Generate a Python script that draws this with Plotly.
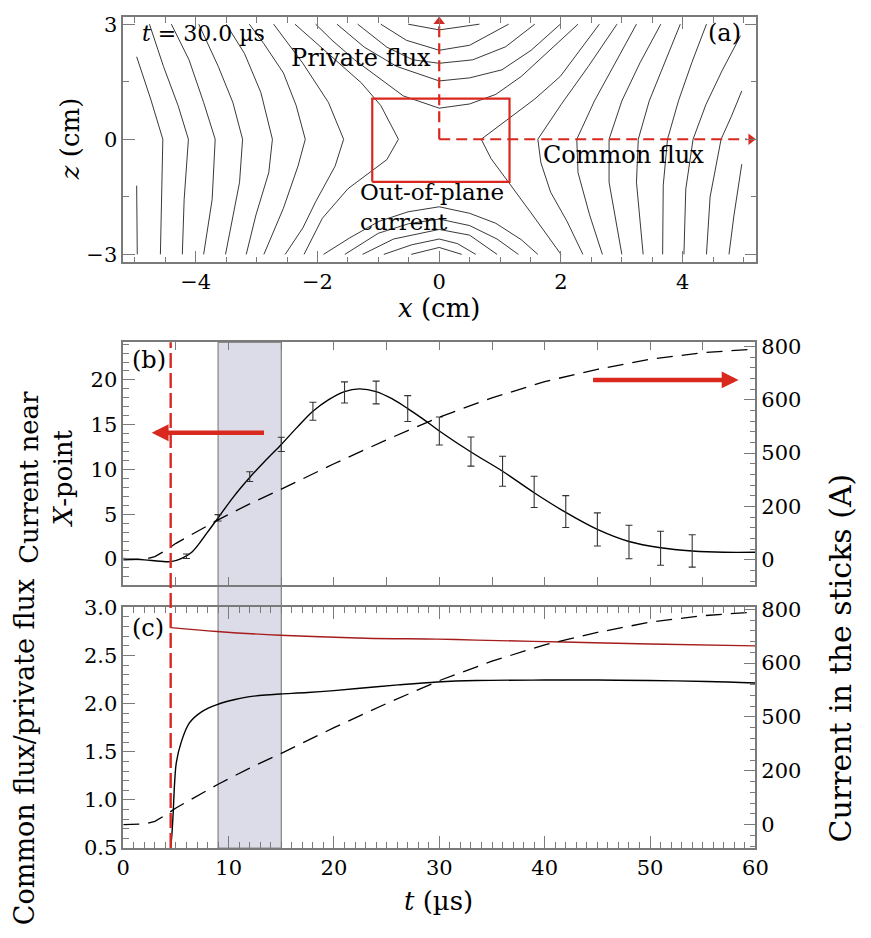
import plotly.graph_objects as go

W, H = 871, 938
FONT = "DejaVu Serif"
RED = "#d9281e"
AXC = "#7a7a7a"


def fx(px):
    return px / W


def fy(py):
    return 1 - py / H


# ---------------- panel (a): field lines ----------------
field_lines_x = [
    # left family (top -> vertex at z=0 -> bottom)
    [-4.97, -4.74, -4.54, -4.56, -4.58],
    [-4.76, -4.53, -4.29, -4.12, -4.19, -4.22],
    [-4.40, -4.11, -3.87, -3.68, -3.73, -3.87],
    [-3.95, -3.63, -3.39, -3.23, -3.28, -3.51],
    [-3.50, -3.20, -2.93, -2.74, -2.80, -3.01, -3.17],
    [-3.12, -2.88, -2.56, -2.35, -2.20, -2.32, -2.56, -2.88],
    [-2.72, -2.24, -1.82, -1.57, -1.71, -2.03, -2.24, -2.53],
    [-2.37, -1.82, -1.28, -0.96, -0.67, -0.86, -1.07, -1.50, -1.92, -2.22],
    [-4.97, -4.96],
    # right family
    [2.63, 1.99, 1.57, 1.14, 0.69, 0.85, 1.13, 1.50, 2.00],
    [2.92, 2.45, 2.00, 1.62, 1.67, 1.83, 2.10, 2.36],
    [3.24, 2.90, 2.55, 2.26, 2.28, 2.47, 2.68],
    [3.64, 3.30, 3.00, 2.79, 2.79, 3.00],
    [3.96, 3.70, 3.45, 3.27, 3.24, 3.35],
    [4.39, 4.15, 3.93, 3.75, 3.68, 3.67],
    [4.95, 4.65, 4.38, 4.17, 4.05, 4.02],
    [4.97, 4.80, 4.63, 4.45, 4.39],
    [4.97, 4.84, 4.76],
    # top family (private flux)
    [-0.51, -0.03, 0.00, 0.66],
    [-0.96, -0.54, 0.00, 0.50, 1.14],
    [-1.34, -0.86, -0.43, 0.00, 0.55, 1.09, 1.57],
    [-1.68, -1.23, -0.70, 0.00, 0.50, 1.03, 1.51, 1.99],
    [-2.03, -1.76, -1.39, -1.02, -0.59, 0.00, 0.50, 0.93, 1.35, 2.28],
    # bottom family
    [-1.90, -1.47, -0.99, -0.51, 0.00, 0.50, 0.93, 1.35, 1.62],
    [-1.55, -1.00, -0.50, 0.00, 0.50, 0.95, 1.30],
    [-1.26, -0.75, 0.00, 0.50, 0.95],
    [-0.91, -0.45, 0.00, 0.30, 0.60],
    [-0.46, 0.00, 0.37],
]
field_lines_z = [
    [2.15, 1.05, 0.00, -1.50, -3.00],
    [3.00, 1.90, 0.88, 0.00, -1.57, -3.00],
    [3.00, 2.07, 0.96, 0.00, -1.57, -3.00],
    [3.00, 1.90, 0.96, 0.00, -1.12, -3.00],
    [3.00, 2.24, 1.22, 0.00, -0.87, -1.97, -3.00],
    [3.00, 2.49, 1.73, 0.88, 0.00, -0.70, -1.80, -3.00],
    [3.00, 1.98, 0.96, 0.00, -0.70, -1.63, -2.31, -3.00],
    [3.00, 2.24, 1.47, 0.88, 0.00, -0.53, -0.78, -1.29, -2.06, -3.00],
    [-1.21, -3.00],
    [3.00, 1.64, 1.05, 0.54, 0.00, -0.50, -1.10, -1.90, -3.00],
    [3.00, 1.90, 0.90, 0.00, -0.61, -1.38, -2.14, -3.00],
    [3.00, 2.00, 1.00, 0.00, -0.87, -1.97, -3.00],
    [3.00, 2.00, 1.00, 0.00, -1.12, -3.00],
    [3.00, 2.00, 1.00, 0.00, -1.12, -3.00],
    [3.00, 2.00, 1.00, 0.00, -1.20, -3.00],
    [2.70, 1.80, 0.90, 0.00, -1.30, -3.00],
    [1.26, 0.60, 0.00, -1.50, -3.00],
    [-0.65, -2.00, -3.00],
    [3.00, 2.87, 2.85, 3.00],
    [3.00, 2.58, 2.32, 2.45, 3.00],
    [3.00, 2.40, 2.07, 1.98, 2.07, 2.41, 3.00],
    [3.00, 2.40, 1.90, 1.52, 1.60, 1.81, 2.32, 3.00],
    [3.00, 2.58, 2.07, 1.64, 1.13, 0.81, 0.92, 1.17, 1.64, 3.00],
    [-3.00, -2.57, -2.14, -1.89, -1.76, -1.93, -2.19, -2.62, -3.00],
    [-3.00, -2.45, -2.20, -2.08, -2.25, -2.60, -3.00],
    [-3.00, -2.60, -2.35, -2.50, -3.00],
    [-3.00, -2.75, -2.60, -2.72, -3.00],
    [-3.00, -2.82, -3.00],
]

box_x = [-1.10, 1.155]
box_z = [-1.11, 1.06]

# ---------------- panel (b) ----------------
t_fit = [0, 2, 3.5, 4.5, 5.5, 6.5, 8, 9, 10.5, 12, 13.5, 15, 16.5, 18, 19.5, 21,
         22.4, 24, 25.5, 27, 28.5, 30, 33, 36, 39, 42, 45, 48, 51, 54, 57, 60]
I_fit = [0.05, -0.1, -0.25, -0.3, 0.05, 0.75, 3.0, 4.6, 7.0, 9.1, 11.0, 12.8,
         14.7, 16.5, 17.8, 18.7, 19.0, 18.7, 17.9, 16.8, 15.6, 14.3, 11.95, 9.8,
         7.4, 5.2, 3.3, 1.95, 1.25, 0.9, 0.75, 0.75]

t_err = [6, 9, 12, 15, 18, 21, 24, 27, 30, 33, 36, 39, 42, 45, 48, 51, 54]
I_err = [0.3, 4.6, 9.2, 12.8, 16.5, 18.6, 18.6, 16.8, 14.3, 12.0, 9.8, 7.5,
         5.3, 3.3, 1.9, 1.2, 0.9]
I_err_size = [0.25, 0.36, 0.54, 0.8, 1.0, 1.18, 1.27, 1.45, 1.56, 1.63, 1.68,
              1.74, 1.78, 1.85, 1.87, 1.9, 1.81]

t_stick = [0, 2, 3, 4, 5, 7, 9, 12, 15, 20, 25, 30, 35, 40, 45, 50, 55, 60]
I_stick = [0, 2, 12, 35, 62, 105, 150, 210, 265, 360, 450, 535, 607, 668, 714,
           752, 776, 790]

# ---------------- panel (c) ----------------
t_ratio = [4.5, 4.6, 4.73, 4.88, 5.04, 5.5, 6.28, 7.5, 8.9, 10.5, 11.84, 13.5,
           14.9, 17.5, 20, 23, 26.1, 29.8, 33.5, 40, 45, 49.9, 55.4, 60]
ratio = [0.5, 0.62, 0.85, 1.19, 1.39, 1.6, 1.80, 1.92, 1.99, 2.04, 2.07, 2.09,
         2.10, 2.115, 2.135, 2.165, 2.195, 2.225, 2.24, 2.245, 2.245, 2.24, 2.23, 2.215]

t_red = [4.5, 8.9, 14.9, 23, 29.8, 33.5, 41.8, 50, 60]
red_val = [2.79, 2.75, 2.71, 2.68, 2.67, 2.66, 2.64, 2.62, 2.60]

t_onset = 4.5
t_band = [9, 15]

right_tickvals = [0, 200, 400, 600, 800]
right_ticktext = ["0", "200", "500", "600", "800"]

fig = go.Figure()

# panel a
for xs, zs in zip(field_lines_x, field_lines_z):
    fig.add_trace(go.Scatter(x=xs, y=zs, mode="lines", xaxis="x", yaxis="y",
                             line=dict(color="#222222", width=0.9),
                             showlegend=False, hoverinfo="skip"))
fig.add_trace(go.Scatter(
    x=[box_x[0], box_x[1], box_x[1], box_x[0], box_x[0]],
    y=[box_z[0], box_z[0], box_z[1], box_z[1], box_z[0]],
    mode="lines", xaxis="x", yaxis="y", line=dict(color=RED, width=2.2),
    showlegend=False))
fig.add_trace(go.Scatter(x=[0, 0], y=[0, 3.0], mode="lines", xaxis="x", yaxis="y",
                         line=dict(color=RED, width=2.2, dash="11px,6px"),
                         showlegend=False))
fig.add_trace(go.Scatter(x=[0, 5.05], y=[0, 0], mode="lines", xaxis="x", yaxis="y",
                         line=dict(color=RED, width=2.2, dash="11px,6px"),
                         showlegend=False))
fig.add_trace(go.Scatter(x=[0], y=[3.07], mode="markers", xaxis="x", yaxis="y",
                         marker=dict(symbol="triangle-up", size=10, color=RED),
                         cliponaxis=False, showlegend=False))
fig.add_trace(go.Scatter(x=[5.12], y=[0], mode="markers", xaxis="x", yaxis="y",
                         marker=dict(symbol="triangle-right", size=10, color=RED),
                         cliponaxis=False, showlegend=False))

# panel b
fig.add_trace(go.Scatter(x=t_stick, y=I_stick, mode="lines", xaxis="x2", yaxis="y3",
                         line=dict(color="black", width=1.3, dash="16px,9px"),
                         showlegend=False))
fig.add_trace(go.Scatter(x=t_fit, y=I_fit, mode="lines", xaxis="x2", yaxis="y2",
                         line=dict(color="black", width=1.4, shape="spline"),
                         showlegend=False))
fig.add_trace(go.Scatter(x=t_err, y=I_err, mode="markers", xaxis="x2", yaxis="y2",
                         marker=dict(size=1, color="rgba(0,0,0,0)"),
                         error_y=dict(type="data", array=I_err_size, visible=True,
                                      color="#333333", thickness=1.1, width=3.5),
                         showlegend=False))

# panel c
fig.add_trace(go.Scatter(x=t_stick, y=I_stick, mode="lines", xaxis="x3", yaxis="y5",
                         line=dict(color="black", width=1.3, dash="16px,9px"),
                         showlegend=False))
fig.add_trace(go.Scatter(x=t_red, y=red_val, mode="lines", xaxis="x3", yaxis="y4",
                         line=dict(color="#a51c1c", width=1.4, shape="spline"),
                         showlegend=False))
fig.add_trace(go.Scatter(x=t_ratio, y=ratio, mode="lines", xaxis="x3", yaxis="y4",
                         line=dict(color="black", width=1.4, shape="spline"),
                         showlegend=False))

TICKSIZE = 21


def ax(**kw):
    d = dict(showline=True, linecolor=AXC, linewidth=1.5, ticks="inside",
             tickcolor=AXC, ticklen=12, tickwidth=1.2, showgrid=False,
             zeroline=False, tickfont=dict(family=FONT, size=TICKSIZE, color="black"))
    d.update(kw)
    return d


def minor(dt):
    return dict(ticks="inside", ticklen=6, tickcolor=AXC, dtick=dt, showgrid=False)


xa = [fx(119), fx(767)]
xb = [fx(119), fx(766)]
ya = [fy(257), fy(5)]
yb = [fy(588), fy(339)]
yc = [fy(858), fy(611)]

fig.update_layout(
    width=W, height=H, margin=dict(l=0, r=0, t=0, b=0),
    paper_bgcolor="white", plot_bgcolor="rgba(0,0,0,0)", showlegend=False,
    xaxis=ax(domain=xa, anchor="y", range=[-5.19, 5.21], tickvals=[-4, -2, 0, 2, 4],
             minor=minor(0.5), mirror="ticks"),
    yaxis=ax(domain=ya, anchor="x", range=[-3.21, 3.19], tickvals=[-3, 0, 3],
             minor=minor(1.5), mirror="ticks"),
    xaxis2=ax(domain=xb, anchor="y2", range=[0, 60], dtick=5, ticklen=8,
              showticklabels=False, mirror="ticks"),
    yaxis2=ax(domain=yb, anchor="x2", range=[-2.9, 24.2], tickvals=[0, 5, 10, 15, 20],
              minor=minor(1)),
    yaxis3=ax(domain=yb, anchor="x2", overlaying="y2", side="right",
              range=[-94, 815], tickvals=right_tickvals, ticktext=right_ticktext,
              minor=minor(40)),
    xaxis3=ax(domain=xb, anchor="y4", range=[0, 60], dtick=10, minor=minor(1),
              mirror="ticks"),
    yaxis4=ax(domain=yc, anchor="x3", range=[0.5, 3.0], dtick=0.5, tickformat=".1f",
              minor=minor(0.1)),
    yaxis5=ax(domain=yc, anchor="x3", overlaying="y4", side="right",
              range=[-87, 807], tickvals=right_tickvals, ticktext=right_ticktext,
              minor=minor(40)),
)

shapes = [
    dict(type="rect", xref="x2", yref="paper", x0=t_band[0], x1=t_band[1],
         y0=fy(858), y1=fy(339), fillcolor="#dcdce8",
         line=dict(color="#8a8a8a", width=1.3), layer="below"),
    dict(type="line", xref="x2", yref="paper", x0=t_onset, x1=t_onset,
         y0=fy(858), y1=fy(339), line=dict(color=RED, width=2.4, dash="15px,5px")),
]
fig.update_layout(shapes=shapes)

TF = dict(family=FONT, size=24, color="black")
TT = dict(family=FONT, size=26, color="black")
ann = [
    dict(x=fx(136), y=fy(22), text="<i>t</i> = 30.0 µs", xanchor="left",
         font=dict(family=FONT, size=22, color="black")),
    dict(x=fx(753), y=fy(22), text="(a)", xanchor="right", font=TF),
    dict(x=fx(362), y=fy(47), text="Private flux", xanchor="center", font=TF),
    dict(x=fx(631), y=fy(147), text="Common flux", xanchor="center", font=TF),
    dict(x=fx(359), y=fy(200), text="Out-of-plane<br>current", xanchor="left",
         align="left", font=dict(family=FONT, size=23, color="black")),
    dict(x=fx(126), y=fy(357), text="(b)", xanchor="left", font=TF),
    dict(x=fx(126), y=fy(632), text="(c)", xanchor="left", font=TF),
    dict(x=fx(442), y=fy(304), text="<i>x</i> (cm)", font=TT),
    dict(x=fx(64), y=fy(131), text="<i>z</i> (cm)", textangle=-90, font=TT),
    dict(x=fx(40), y=fy(478), text="Current near<br><i>X</i>-point", textangle=-90,
         font=TT),
    dict(x=fx(18), y=fy(760), text="Common flux/private flux", textangle=-90,
         font=dict(family=FONT, size=27, color="black")),
    dict(x=fx(853), y=fy(663), text="Current in the sticks (A)", textangle=-90,
         font=dict(family=FONT, size=30, color="black")),
    dict(x=fx(442), y=fy(912), text="<i>t</i> (µs)", font=TT),
]
for a in ann:
    a.update(xref="paper", yref="paper", showarrow=False, yanchor="middle")
    a.setdefault("xanchor", "center")

ann += [
    dict(x=2.7, y=14.1, ax=13.5, ay=14.1, xref="x2", yref="y2", axref="x2",
         ayref="y2", text="", showarrow=True, arrowhead=2, arrowsize=0.75,
         arrowwidth=4.5, arrowcolor=RED),
    dict(x=58.4, y=20.0, ax=44.45, ay=20.0, xref="x2", yref="y2", axref="x2",
         ayref="y2", text="", showarrow=True, arrowhead=2, arrowsize=0.75,
         arrowwidth=4.5, arrowcolor=RED),
]
fig.update_layout(annotations=ann)

fig.write_html("out.html")
